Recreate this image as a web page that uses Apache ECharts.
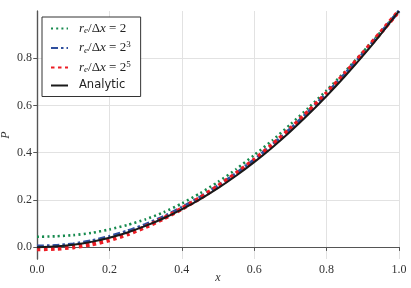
<!DOCTYPE html>
<html>
<head>
<meta charset="utf-8">
<script src="https://cdn.jsdelivr.net/npm/echarts@6/dist/echarts.min.js"></script>
<style>html,body{margin:0;padding:0;background:#fff}#c{width:411px;height:288px}</style>
</head>
<body>
<div id="c"></div>
<script>
const xValues = [0,0.05,0.1,0.15,0.2,0.25,0.3,0.35,0.4,0.45,0.5,0.55,0.6,0.65,0.7,0.75,0.8,0.85,0.9,0.95,1.0];
const green2 = [0.044,0.046,0.051,0.060,0.075,0.094,0.118,0.148,0.185,0.228,0.276,0.330,0.390,0.452,0.520,0.590,0.664,0.742,0.826,0.912,0.998];
const blue8 = [0.004,0.006,0.013,0.026,0.045,0.068,0.096,0.129,0.168,0.211,0.259,0.312,0.370,0.433,0.500,0.573,0.650,0.732,0.818,0.908,1.000];
const red32 = [-0.008,-0.006,0.000,0.012,0.030,0.055,0.086,0.122,0.163,0.208,0.258,0.312,0.370,0.433,0.502,0.575,0.652,0.734,0.820,0.910,1.000];
const analytic = [0,0.0025,0.01,0.0225,0.04,0.0625,0.09,0.1225,0.16,0.2025,0.25,0.3025,0.36,0.4225,0.49,0.5625,0.64,0.7225,0.81,0.9025,1.0];
const yTicks = [0,0.2,0.4,0.6,0.8];
const seriesNames = ['{i|r}{s|e}{n|/Δ}{i|x}{n| = 2}', '{i|r}{s|e}{n|/Δ}{i|x}{n| = 2}{p|3}', '{i|r}{s|e}{n|/Δ}{i|x}{n| = 2}{p|5}', 'Analytic'];

const pairs = arr => xValues.map((x,i)=>[x,arr[i]]);
const serif = 'Liberation Serif';
const axisCol = '#555';
const chart = echarts.init(document.getElementById('c'), null, {renderer:'canvas'});
const mk = (name, data, color, width, type) => ({
  name, type:'line', data: pairs(data), showSymbol:false, symbol:'none', smooth:0.2,
  lineStyle:{color, width, type, cap:'butt'}, itemStyle:{color}, animation:false,
  xAxisIndex:0, yAxisIndex:0
});
chart.setOption({
  animation:false,
  grid:{left:37, right:12, top:11, bottom:29, containLabel:false, outerBoundsMode:'none'},
  legend:{
    orient:'vertical', left:42, top:17, padding:[5,10,5,8], itemGap:5,
    itemWidth:17, itemHeight:14,
    backgroundColor:'#fff', borderColor:'#333', borderWidth:1, borderRadius:0,
    itemStyle:{color:'rgba(0,0,0,0)', borderColor:'rgba(0,0,0,0)', borderWidth:0, opacity:0},
    data: seriesNames,
    textStyle:{
      fontFamily:'DejaVu Sans', fontSize:11.5, color:'#222', padding:[0,0,0,6],
      rich:{
        i:{fontFamily:serif, fontStyle:'italic', fontSize:13, color:'#222'},
        s:{fontFamily:serif, fontStyle:'italic', fontSize:9, color:'#222', padding:[5,0,0,0]},
        p:{fontFamily:serif, fontSize:9, color:'#222', padding:[0,0,6,0]},
        n:{fontFamily:serif, fontSize:13, color:'#222'}
      }
    }
  },
  xAxis:[{
    type:'value', min:0, max:1, interval:0.2,
    name:'x', nameLocation:'middle', nameGap:13, nameMoveOverlap:false,
    nameTextStyle:{fontFamily:serif, fontStyle:'italic', fontSize:12, color:'#333'},
    axisLine:{show:true, lineStyle:{color:axisCol, width:1.2}},
    axisTick:{show:true, inside:false, length:3.5, lineStyle:{color:axisCol}},
    axisLabel:{fontFamily:serif, fontSize:12, color:'#333', margin:5, formatter:v=>v.toFixed(1)},
    splitLine:{show:true, lineStyle:{color:'#e2e2e2', width:1}}
  },{
    type:'value', min:0, max:1, interval:0.2, position:'top',
    axisLine:{show:true, lineStyle:{color:axisCol, width:1.2}},
    axisTick:{show:true, inside:true, length:3.5, lineStyle:{color:axisCol}},
    axisLabel:{show:false}, splitLine:{show:false}
  }],
  yAxis:[{
    type:'value', min:-0.05, max:1.0,
    name:'P', nameLocation:'middle', nameGap:25, nameMoveOverlap:false,
    nameTextStyle:{fontFamily:serif, fontStyle:'italic', fontSize:12, color:'#333'},
    axisLine:{show:true, lineStyle:{color:axisCol, width:1.2}},
    axisTick:{show:true, inside:false, length:3.5, lineStyle:{color:axisCol}, customValues:yTicks},
    axisLabel:{fontFamily:serif, fontSize:12, color:'#333', margin:5, customValues:yTicks, formatter:v=>v.toFixed(1)},
    splitLine:{show:true, lineStyle:{color:'#e2e2e2', width:1}}
  },{
    type:'value', min:-0.05, max:1.0, position:'right',
    axisLine:{show:true, lineStyle:{color:axisCol, width:1.2}},
    axisTick:{show:true, inside:true, length:3.5, lineStyle:{color:axisCol}, customValues:yTicks},
    axisLabel:{show:false, customValues:yTicks}, splitLine:{show:false}
  }],
  series:[
    mk(seriesNames[0], green2, '#168a4e', 2.6, [2,3.2]),
    mk(seriesNames[1], blue8, '#2f4f9e', 3.4, [7,3,2.5,3]),
    mk(seriesNames[2], red32, '#ec1c24', 4.4, [3.5,3.5]),
    mk(seriesNames[3], analytic, '#1a1a1a', 2, 'solid')
  ]
});
</script>
</body>
</html>
